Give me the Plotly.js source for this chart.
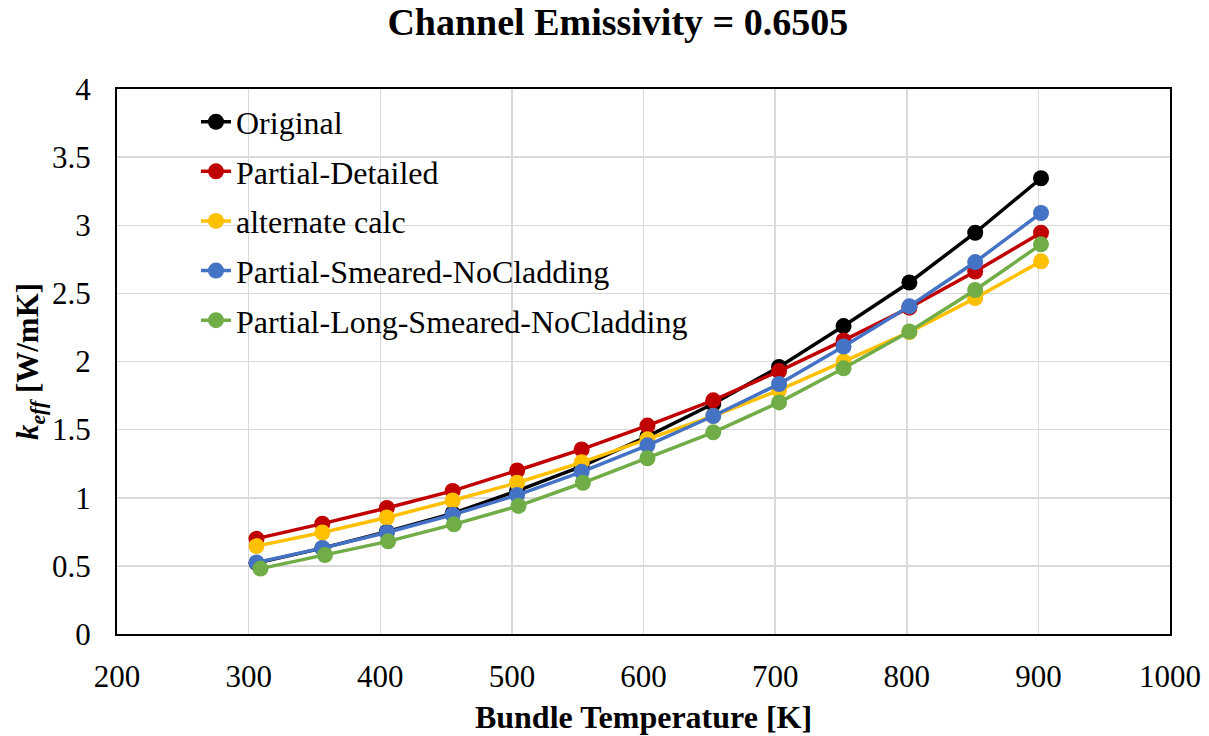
<!DOCTYPE html>
<html>
<head>
<meta charset="utf-8">
<script src="https://cdn.plot.ly/plotly-3.0.1.min.js"></script>
<style>html,body{margin:0;padding:0;background:#fff;}#chart{width:1209px;height:736px;}</style>
</head>
<body>
<div id="chart"></div>
<script>
// Bundle temperature [K]
const temperature = [306, 356, 405, 455, 504, 553, 603, 653, 703, 752, 802, 852, 902];
const temperatureGreen = [309, 358, 406, 456, 505, 554, 603, 653, 703, 752, 802, 852, 902];

// k_eff [W/mK]
const original = [0.52, 0.63, 0.75, 0.885, 1.05, 1.23, 1.45, 1.69, 1.96, 2.26, 2.58, 2.945, 3.345];
const partialDetailed = [0.70, 0.81, 0.925, 1.05, 1.20, 1.355, 1.53, 1.715, 1.93, 2.155, 2.395, 2.66, 2.945];
const alternateCalc = [0.645, 0.745, 0.855, 0.98, 1.11, 1.26, 1.43, 1.60, 1.79, 2.00, 2.215, 2.465, 2.735];
const partialSmearedNoCladding = [0.525, 0.63, 0.745, 0.875, 1.02, 1.19, 1.385, 1.60, 1.835, 2.11, 2.405, 2.73, 3.09];
const partialLongSmearedNoCladding = [0.48, 0.58, 0.68, 0.805, 0.94, 1.11, 1.29, 1.48, 1.70, 1.95, 2.22, 2.525, 2.86];

const seriesNames = ["Original", "Partial-Detailed", "alternate calc", "Partial-Smeared-NoCladding", "Partial-Long-Smeared-NoCladding"];
const seriesColors = ["#000000", "#C00000", "#FFC000", "#4472C4", "#70AD47"];
const seriesY = [original, partialDetailed, alternateCalc, partialSmearedNoCladding, partialLongSmearedNoCladding];
const seriesX = [temperature, temperature, temperature, temperature, temperatureGreen];

const xTicks = [200, 300, 400, 500, 600, 700, 800, 900, 1000];
const yTicks = [0, 0.5, 1, 1.5, 2, 2.5, 3, 3.5, 4];

const FONT = "Liberation Serif, Times New Roman, DejaVu Serif, serif";

const traces = seriesNames.map((name, i) => ({
  type: 'scatter',
  mode: 'lines+markers',
  name: name,
  x: seriesX[i],
  y: seriesY[i],
  legendgroup: 'g' + i,
  line: {color: seriesColors[i], width: 3.5},
  marker: {color: seriesColors[i], size: 16}
}));

const layout = {
  width: 1209,
  height: 736,
  paper_bgcolor: '#ffffff',
  plot_bgcolor: '#ffffff',
  margin: {l: 117, r: 39, t: 89, b: 102},
  font: {family: FONT, color: '#000000', size: 31},
  title: {
    text: '<b>Channel Emissivity = 0.6505</b>',
    font: {family: FONT, size: 38, color: '#000000'},
    x: 0.511, xanchor: 'center', y: 0.97, yanchor: 'middle'
  },
  xaxis: {
    range: [200, 1000],
    tickvals: xTicks,
    ticktext: xTicks.map(String),
    tickfont: {family: FONT, size: 31},
    ticks: '',
    ticklabelstandoff: 14,
    showgrid: true,
    gridcolor: '#D9D9D9',
    gridwidth: 1.5,
    zeroline: false,
    showline: true,
    linecolor: '#000000',
    linewidth: 2,
    mirror: true,
    title: {text: '<b>Bundle Temperature [K]</b>', font: {family: FONT, size: 32}, standoff: 12}
  },
  yaxis: {
    range: [0, 4],
    tickvals: yTicks,
    ticktext: yTicks.map(String),
    tickfont: {family: FONT, size: 31},
    ticks: '',
    ticklabelstandoff: 18,
    showgrid: true,
    gridcolor: '#D9D9D9',
    gridwidth: 1.5,
    zeroline: false,
    showline: true,
    linecolor: '#000000',
    linewidth: 2,
    mirror: true,
    title: {text: '<b><i>k</i><sub><i>eff</i></sub> [W/mK]</b>', font: {family: FONT, size: 31}, standoff: 4}
  },
  showlegend: true,
  legend: {
    x: 0.075, xanchor: 'left',
    y: 0.99, yanchor: 'top',
    bgcolor: 'rgba(255,255,255,0)',
    borderwidth: 0,
    font: {family: FONT, size: 32, color: '#000000'},
    tracegroupgap: 5,
    itemwidth: 30
  }
};

Plotly.newPlot('chart', traces, layout, {displayModeBar: false, staticPlot: true});
</script>
</body>
</html>
